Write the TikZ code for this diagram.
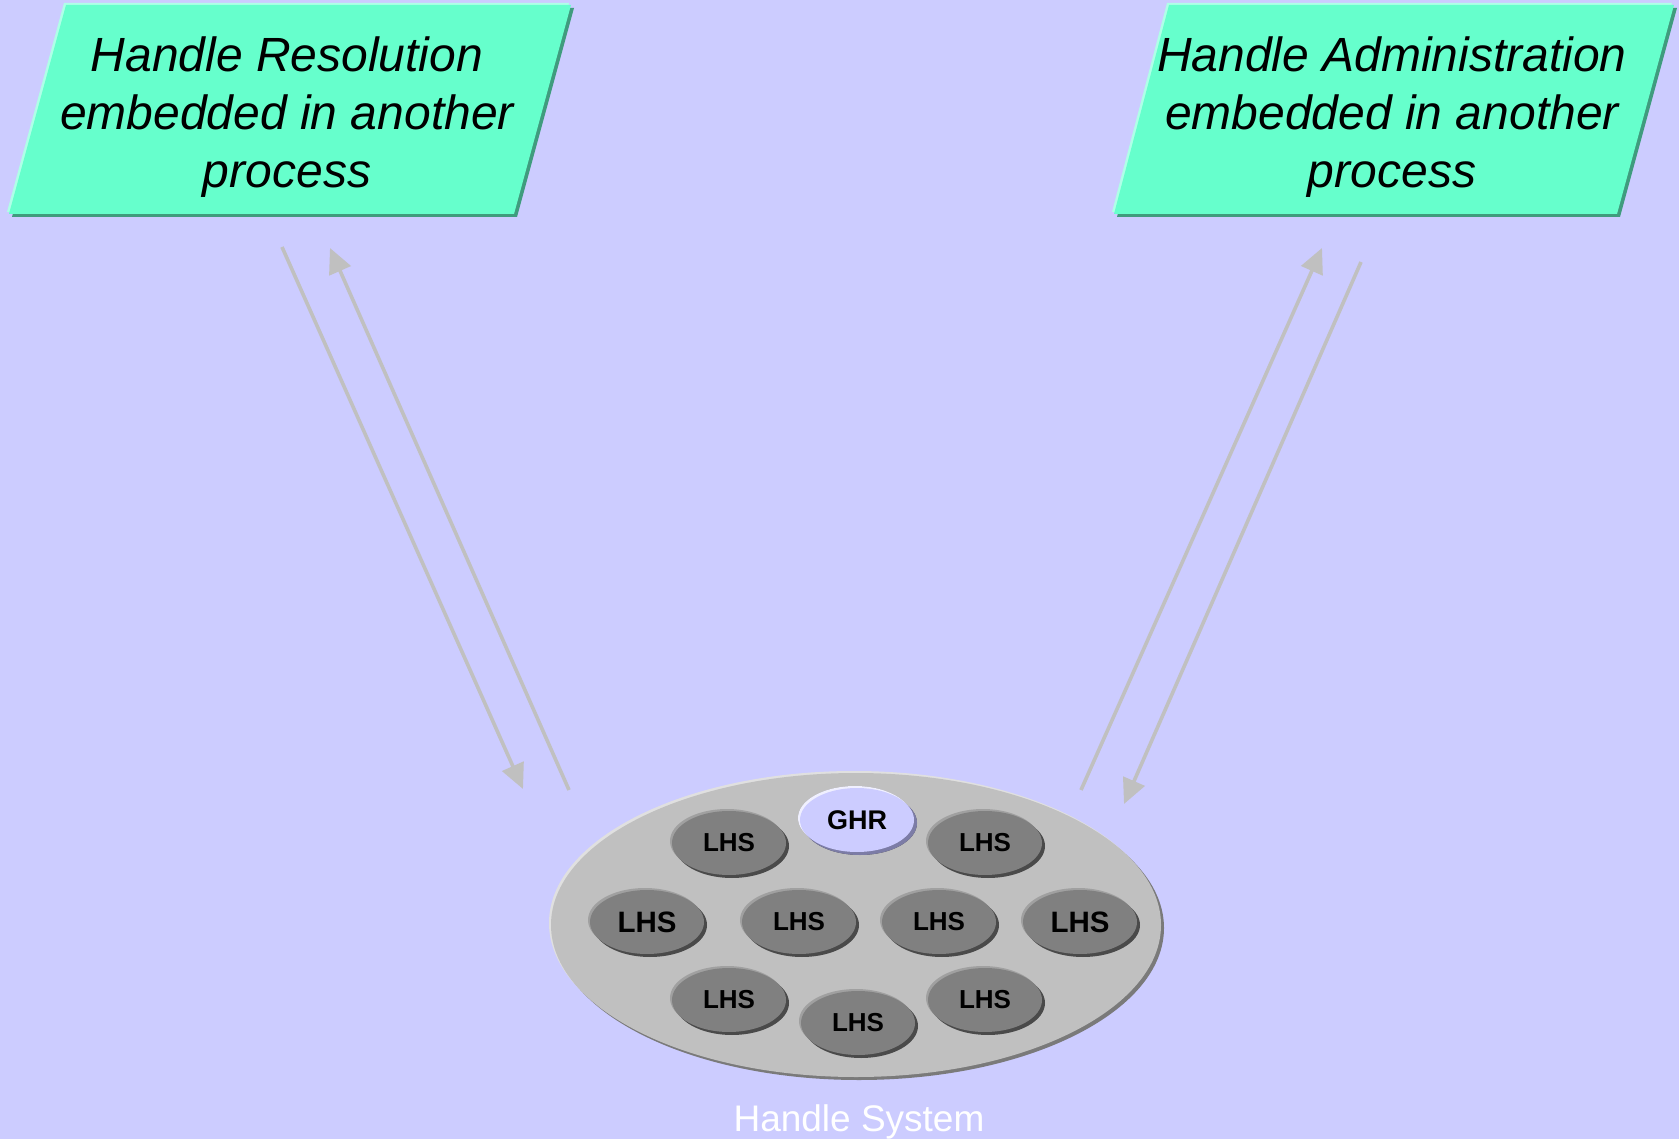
\documentclass[tikz,border=0pt]{standalone}
\usepackage{fontspec}
\setmainfont{Liberation Sans}
\usetikzlibrary{shapes.geometric,arrows.meta,shadows}

\definecolor{bgblue}{HTML}{CCCCFF}
\definecolor{mint}{HTML}{66FFCC}
\definecolor{mintdark}{HTML}{3F9C7E}
\definecolor{mintlight}{HTML}{B0FFE8}
\definecolor{linkgray}{HTML}{C0C0C0}
\definecolor{trayfill}{HTML}{C0C0C0}
\definecolor{traydark}{HTML}{7A7A7A}
\definecolor{traylight}{HTML}{E0E0E0}
\definecolor{discfill}{HTML}{808080}
\definecolor{discdark}{HTML}{4A4A4A}
\definecolor{disclight}{HTML}{A0A0A0}
\definecolor{rootfill}{HTML}{CCCCFF}
\definecolor{rootdark}{HTML}{7C7CA6}
\definecolor{rootlight}{HTML}{F0F0FF}

\tikzset{
  boxtext/.style={align=center, text=black,
    font=\itshape\fontsize{48}{58}\selectfont},
  link/.style={draw=linkgray, line width=3.6pt,
    -{Triangle[length=25pt,width=23pt]}},
  rim/.style 2 args={
    drop shadow={shadow xshift=-2pt, shadow yshift=2pt, opacity=1, fill=#1},
    drop shadow={shadow xshift=3pt, shadow yshift=-3pt, opacity=1, fill=#2}},
  disc/.style={ellipse, inner sep=0pt, minimum width=114pt, minimum height=64pt,
    fill=discfill, text=black, rim={disclight}{discdark},
    font=\bfseries\fontsize{26}{30}\selectfont},
  bigdisc/.style={disc, font=\bfseries\fontsize{29.5}{33}\selectfont},
  rootdisc/.style={disc, fill=rootfill, rim={rootlight}{rootdark},
    font=\bfseries\fontsize{27}{31}\selectfont},
}

\begin{document}
\begin{tikzpicture}[x=1pt,y=-1pt]
  % canvas
  \fill[bgblue] (0,0) rectangle (1679,1139);
  \useasboundingbox (0,0) rectangle (1679,1139);

  % left process box
  \begin{scope}[shift={(-2,-2)}]
    \fill[mintlight] (66,5) -- (571,5) -- (514,214) -- (9,214) -- cycle;
  \end{scope}
  \begin{scope}[shift={(3,3)}]
    \fill[mintdark] (66,5) -- (571,5) -- (514,214) -- (9,214) -- cycle;
  \end{scope}
  \fill[mint] (66,5) -- (571,5) -- (514,214) -- (9,214) -- cycle;
  \node[boxtext] (resolve) at (287,117)
    {Handle Resolution\\embedded in another\\process};

  % right process box
  \begin{scope}[shift={(-2,-2)}]
    \fill[mintlight] (1169,5) -- (1674,5) -- (1617,214) -- (1114,214) -- cycle;
  \end{scope}
  \begin{scope}[shift={(3,3)}]
    \fill[mintdark] (1169,5) -- (1674,5) -- (1617,214) -- (1114,214) -- cycle;
  \end{scope}
  \fill[mint] (1169,5) -- (1674,5) -- (1617,214) -- (1114,214) -- cycle;
  \node[boxtext] (admin) at (1392,117)
    {Handle Administration\\embedded in another\\process};

  % the handle system tray
  \node[ellipse, inner sep=0pt, minimum width=610pt, minimum height=304pt,
        fill=trayfill, rim={traylight}{traydark}] (tray) at (856,925) {};

  \node[rootdisc] (ghr) at (857,820) {GHR};
  \node[disc] (l1) at (729,843) {LHS};
  \node[disc] (l2) at (985,843) {LHS};
  \node[bigdisc] (l3) at (647,922) {LHS};
  \node[disc] (l4) at (799,922) {LHS};
  \node[disc] (l5) at (939,922) {LHS};
  \node[bigdisc] (l6) at (1080,922) {LHS};
  \node[disc] (l7) at (729,1000) {LHS};
  \node[disc] (l8) at (858,1023) {LHS};
  \node[disc] (l9) at (985,1000) {LHS};

  \node[anchor=base, text=white, font=\fontsize{37}{40}\selectfont]
    (label) at (859,1131) {Handle System};

  % request / reply pairs
  \coordinate (ra) at (282,247);
  \coordinate (rb) at (523,789);
  \coordinate (rc) at (569,790);
  \coordinate (rd) at (330,248);
  \coordinate (aa) at (1081,790);
  \coordinate (ab) at (1322,248);
  \coordinate (ac) at (1361,262);
  \coordinate (ad) at (1124,804);

  \draw[link] (ra) -- (rb);
  \draw[link] (rc) -- (rd);
  \draw[link] (aa) -- (ab);
  \draw[link] (ac) -- (ad);
\end{tikzpicture}
\end{document}
